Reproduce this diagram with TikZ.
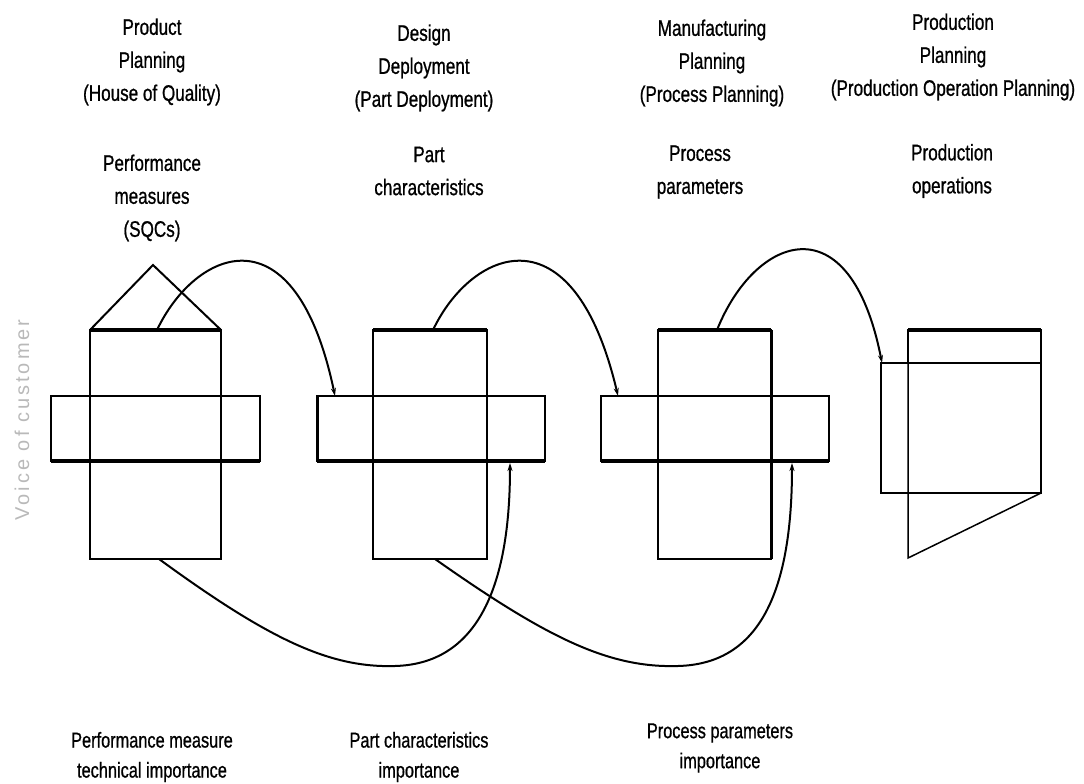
\documentclass[tikz,border=0pt]{standalone}
\usepackage{fontspec}
\setmainfont{Liberation Sans}[FakeStretch=0.76, FakeBold=0.8]
\newfontfamily\voicefont{Liberation Sans}[LetterSpace=15]
\usetikzlibrary{arrows.meta}

\tikzset{
	thinline/.style={line width=1.5pt},
	thickline/.style={line width=4pt},
	flow/.style={line width=2pt, -{Stealth[length=8pt,width=5pt]}},
	caption/.style={align=center, inner sep=0pt, font=\fontsize{22.5}{33}\selectfont},
	note/.style={align=center, inner sep=0pt, font=\fontsize{21.5}{30}\selectfont},
}

\begin{document}
\begin{tikzpicture}[x=1pt, y=-1pt]
	\useasboundingbox (0,0) rectangle (1084,784);
	% first three houses
	\foreach \vl/\vr/\hl/\hr in { 90/221/51/260, 373/487/317/545, 658/771/601/829 } {
		\draw[thinline] (\vl,330) rectangle (\vr,559);
		\draw[thinline] (\hl,396) rectangle (\hr,461);
		\draw[thickline] (\vl,330) -- (\vr,330);
		\draw[thickline] (\hl,461) -- (\hr,461);
	}
	\draw[line width=2pt] (90,330) -- (153,265) -- (221,330);
	\draw[line width=3pt] (317,396) -- (317,461);
	\draw[line width=3pt] (771,330) -- (771,559);
	% last house
	\draw[thinline] (908,330) rectangle (1041,363);
	\draw[thickline] (908,330) -- (1041,330);
	\draw[thinline] (881,363) rectangle (1041,493);
	\draw[thinline] (908,363) -- (908,558) -- (1041,493);

	\coordinate (hoq roof) at (157,330);
	\coordinate (part in) at (335,396);
	\coordinate (part top) at (433,330);
	\coordinate (process in) at (618,396);
	\coordinate (process top) at (717,330);
	\coordinate (operation in) at (882,363);
	\coordinate (hoq base) at (159,559);
	\coordinate (part imp) at (510,463);
	\coordinate (part base) at (435,559);
	\coordinate (process imp) at (792,463);

	\draw[flow] (hoq roof) .. controls (195,250) and (295,205) .. (part in);
	\draw[flow] (part top) .. controls (471,250) and (573,205) .. (process in);
	\draw[flow] (process top) .. controls (755,235) and (850,200) .. (operation in);
	\draw[flow] (hoq base) .. controls (270,640) and (330,668) .. (395,666) .. controls (470,664) and (510,600) .. (part imp);
	\draw[flow] (part base) .. controls (550,640) and (610,668) .. (678,666) .. controls (755,664) and (792,600) .. (process imp);

	\node[caption] (hoq title) at (152,62) {Product\\Planning\\(House of Quality)};
	\node[caption] (part title) at (424,68) {Design\\Deployment\\(Part Deployment)};
	\node[caption] (process title) at (712,63) {Manufacturing\\Planning\\(Process Planning)};
	\node[caption] (operation title) at (953,57) {Production\\Planning\\(Production Operation Planning)};

	\node[caption] (hoq what) at (152,198) {Performance\\measures\\(SQCs)};
	\node[caption] (part what) at (429,171) {Part\\characteristics};
	\node[caption] (process what) at (700,172) {Process\\parameters};
	\node[caption] (operation what) at (952,171) {Production\\operations};

	\node[note] (hoq imp text) at (152,757) {Performance measure\\technical importance};
	\node[note] (part imp text) at (419,757) {Part characteristics\\importance};
	\node[note] (process imp text) at (720,748) {Process parameters\\importance};

	\node[rotate=90, text=gray!55, font=\voicefont\fontsize{20}{20}\selectfont] (voice) at (22,420) {Voice of customer};
\end{tikzpicture}
\end{document}
